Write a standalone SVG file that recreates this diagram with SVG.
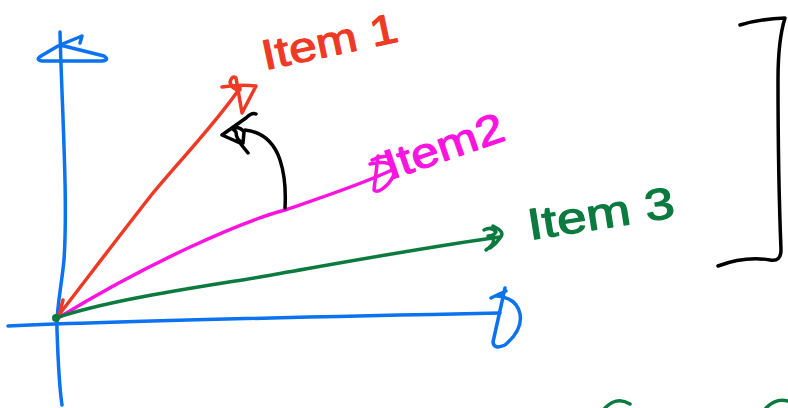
<svg xmlns="http://www.w3.org/2000/svg" width="788" height="408" viewBox="0 0 788 408">
<style>
.s{fill:none;stroke-linecap:round;stroke-linejoin:round;stroke-width:3.5}
.b{stroke:#0b72f0}.r{stroke:#ee3a24}.m{stroke:#fb14df}.g{stroke:#0b7a3f}.k{stroke:#000}
.t{font-family:"Liberation Sans",Arial,sans-serif;stroke-width:1.2;stroke-linejoin:round}
</style>
<rect width="788" height="408" fill="#fff"/>
<g id="connectors">
<g id="y-axis">
<path class="s b" d="M60,32 C62,110 68,200 64,260 C61,290 56,310 57,330 C58,360 59,385 62,405"/>
<path class="s b" d="M82,36 L80,43 M82,36 L60,45 L104,56 Q110,60 102,61 L42,61 Q35,60 41,56 L58,46"/>
</g>
<g id="x-axis">
<path class="s b" d="M8,326 C100,322 250,318 500,313"/>
<path class="s b" d="M491,298 Q499,294 506,291 M505,288 L493,342 Q494,350 505,345 Q523,330 520,314 Q517,298 497,296"/>
</g>
<g id="vector-1">
<path class="s r" d="M58,316 C95,268 130,222 153,193 C180,160 212,128 240,88"/>
<path class="s r" d="M222,87 Q240,84 256,86 L242,113 L236,78 Q232,75 230,82 Q232,90 240,90"/>
<path class="s r" d="M63,300 L60,312"/>
</g>
<g id="vector-2">
<path class="s m" d="M58,318 C150,262 240,222 285,210 C320,198 360,185 392,170"/>
<path class="s m" d="M372,160 Q381,156 390,156 M378,156 L374,190 Q378,194 388,184 Q398,172 393,166 Q386,160 370,164"/>
</g>
<g id="vector-3">
<path class="s g" d="M55,318 C110,300 180,290 260,277 C340,263 420,248 500,237"/>
<path class="s g" d="M484,230 Q492,226 496,232 Q494,236 488,236 Q500,240 486,250 M493,226 Q506,232 500,238 Q496,244 490,248"/>
<circle cx="56" cy="318" r="4" fill="#0b7a3f"/>
</g>
<g id="angle-arrow">
<path class="s k" d="M285,208 C286,190 285,175 280,160 C274,142 262,132 245,130"/>
<path class="s k" d="M256,114 Q252,112 246,118 L222,135 L240,143 L248,153 M232,128 Q240,126 244,132 L243,143 Q236,140 236,132 Z"/>
</g>
</g>
<g id="label-item1">
<text class="t" x="0" y="0" transform="translate(265,70) rotate(-12)" font-size="42" fill="#ee3a24" stroke="#ee3a24" textLength="138" lengthAdjust="spacingAndGlyphs">Item 1</text>
</g>
<g id="label-item2">
<text class="t" x="0" y="0" transform="translate(390,180) rotate(-19)" font-size="42" fill="#fb14df" stroke="#fb14df" textLength="124" lengthAdjust="spacingAndGlyphs">Item2</text>
</g>
<g id="label-item3">
<text class="t" x="0" y="0" transform="translate(530,240) rotate(-9)" font-size="44" fill="#0b7a3f" stroke="#0b7a3f" textLength="148" lengthAdjust="spacingAndGlyphs">Item 3</text>
</g>
<g id="bracket">
<path class="s k" d="M740,25 Q760,19 785,18 Q778,40 778,80 C778,140 779,200 781,250 Q781,262 770,260 Q745,256 718,266"/>
</g>
<g id="partial-strokes">
<path class="s g" d="M605,408 Q617,396 630,404 M766,408 Q776,398 788,401"/>
</g>
</svg>
